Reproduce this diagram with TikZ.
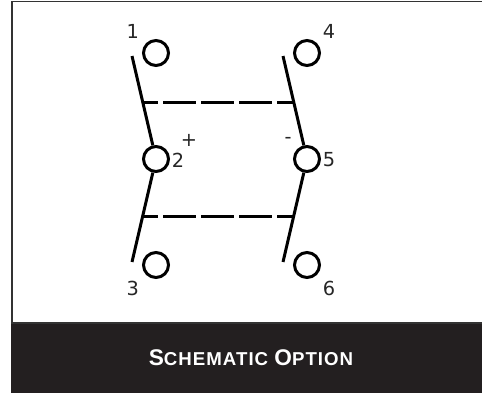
\documentclass[tikz,border=0pt]{standalone}
\usepackage{fontspec}
\setmainfont{DejaVu Sans}
\newfontfamily\captionfont[LetterSpace=5.5]{Liberation Sans}
\definecolor{banddark}{RGB}{35,31,32}
\tikzset{
	terminal/.style={circle, draw, line width=2.25pt, minimum size=18.75pt, inner sep=0pt},
	pinlabel/.style={inner sep=0pt, font=\fontsize{14.5}{17}\selectfont, text=black!85},
	blade/.style={line width=2.25pt},
	linkage/.style={line width=2.25pt, dash pattern=on 24.5pt off 4pt}
}
\begin{document}
\begin{tikzpicture}[x=0.75pt, y=-0.75pt]
\useasboundingbox (0,0) rectangle (482,394);
\draw [line width=1.2pt, draw=black!80] (12,1.5) -- (483,1.5) -- (483,323) -- (12,323) -- cycle;
\fill [banddark] (11,323.5) rectangle (482,393);
\node (title) at (251,358) [text=white, font=\captionfont\bfseries\fontsize{17}{20}\selectfont] {S\fontsize{14}{20}\selectfont CHEMATIC \fontsize{17}{20}\selectfont O\fontsize{14}{20}\selectfont PTION};

% terminals
\node [terminal] (t1) at (156,53) {};
\node [terminal] (t2) at (156,159) {};
\node [terminal] (t3) at (156,265) {};
\node [terminal] (t4) at (307,53) {};
\node [terminal] (t5) at (307,159) {};
\node [terminal] (t6) at (307,265) {};

% blades
\coordinate (a1) at (132,56);
\coordinate (a3) at (132,262);
\coordinate (a4) at (283,56);
\coordinate (a6) at (283,262);
\draw [blade] (a1) -- (t2);
\draw [blade] (a3) -- (t2);
\draw [blade] (a4) -- (t5);
\draw [blade] (a6) -- (t5);

% linkage
\coordinate (u1) at (143,102.3);
\coordinate (u2) at (293,102.3);
\coordinate (l1) at (143,216);
\coordinate (l2) at (293,216);
\draw [linkage, dash phase=13.5pt] (u1) -- (u2);
\draw [linkage, dash phase=13.5pt] (l1) -- (l2);

% labels
\node [pinlabel] (n1) at (132.7,31.7) {1};
\node [pinlabel] (n2) at (178,160.5) {2};
\node [pinlabel] (n3) at (132.7,288) {3};
\node [pinlabel] (n4) at (329,31.7) {4};
\node [pinlabel] (n5) at (329,160) {5};
\node [pinlabel] (n6) at (329,288) {6};
\node [pinlabel] (plus) at (189,140.7) {+};
\node [pinlabel] (minus) at (288,140) {-};
\end{tikzpicture}
\end{document}
